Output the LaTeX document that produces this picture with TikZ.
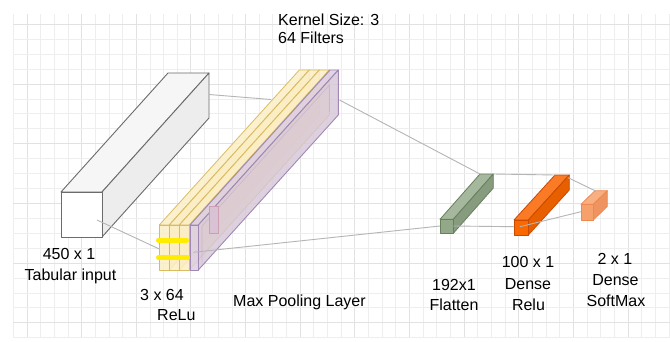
\documentclass[tikz,border=0pt]{standalone}
\usepackage{fontspec}
\setmainfont{Liberation Sans}
\definecolor{gridminor}{HTML}{EEEEEE}
\definecolor{gridmajor}{HTML}{E2E2E2}
\definecolor{inpstroke}{HTML}{6B6B6B}
\definecolor{inptop}{HTML}{F6F6F6}
\definecolor{inpside}{HTML}{EDEDED}
\definecolor{yelfill}{HTML}{FCEFC6}
\definecolor{yelstroke}{HTML}{D9BC62}
\definecolor{purfill}{HTML}{DCCFE4}
\definecolor{purside}{HTML}{D6C6D8}
\definecolor{purstroke}{HTML}{A188B4}
\definecolor{kernstroke}{HTML}{CC9FB4}
\definecolor{kernfill}{HTML}{D8C2D4}
\definecolor{grnfront}{HTML}{93A889}
\definecolor{grntop}{HTML}{A5B79C}
\definecolor{grnside}{HTML}{879C7E}
\definecolor{grnstroke}{HTML}{66805C}
\definecolor{orafront}{HTML}{FA6800}
\definecolor{oratop}{HTML}{FB7A26}
\definecolor{oraside}{HTML}{E85F00}
\definecolor{orastroke}{HTML}{C94A00}
\definecolor{smfront}{HTML}{F6A06C}
\definecolor{smtop}{HTML}{F8B083}
\definecolor{smside}{HTML}{EF9460}
\definecolor{smstroke}{HTML}{EE8A50}
\definecolor{conncol}{HTML}{B5B5B5}
\definecolor{hlyellow}{HTML}{FFEC00}
\newcommand{\mycube}[9]{%
  \path[#8] (#1,#2) -- ++(#3,0) -- ++(#5,#6) -- ++({-(#3)},0) -- cycle;
  \path[#9] (#1+#3,#2) -- ++(#5,#6) -- ++(0,#4) -- ++({-(#5)},{-(#6)}) -- cycle;
  \path[#7] (#1,#2) rectangle ++(#3,#4);
}
\tikzset{
  lbl/.style={font=\fontsize{16}{21}\selectfont, inner sep=0pt, anchor=base},
  lblw/.style={lbl, anchor=base west},
  conn/.style={draw=conncol, line width=0.9pt},
  hlbar/.style={draw=hlyellow, line width=5pt, line cap=round},
}
\begin{document}
\begin{tikzpicture}[x=1pt,y=-1pt]
\useasboundingbox (0,0) rectangle (670,341);
\fill[white] (0,0) rectangle (670,341);
% grid
\foreach \k in {0,...,48} {
  \pgfmathsetmacro{\gx}{13.3+13.66*\k}
  \pgfmathtruncatemacro{\m}{mod(\k,4)}
  \ifnum\m=1
    \draw[gridmajor, line width=0.8pt] (\gx,14) -- (\gx,338);
  \else
    \draw[gridminor, line width=0.7pt] (\gx,14) -- (\gx,338);
  \fi
}
\foreach \k in {0,...,21} {
  \pgfmathsetmacro{\gy}{24.3+14.92*\k}
  \pgfmathtruncatemacro{\m}{mod(\k,4)}
  \ifnum\m=0
    \draw[gridmajor, line width=0.8pt] (13.3,\gy) -- (670,\gy);
  \else
    \draw[gridminor, line width=0.7pt] (13.3,\gy) -- (670,\gy);
  \fi
}
% input cuboid
\mycube{61}{192}{41}{45}{107}{-119}
  {fill=white, draw=inpstroke, line width=0.9pt, line join=round}
  {fill=inptop, draw=inpstroke, line width=0.9pt, line join=round}
  {fill=inpside, draw=inpstroke, line width=0.9pt, line join=round}
% conv slabs
\foreach \sx in {159.3,169.3,179.3} {
  \mycube{\sx}{225}{10}{45}{140}{-155}
    {fill=yelfill, fill opacity=0.85, draw=yelstroke, line width=0.8pt, line join=round}
    {fill=yelfill, fill opacity=0.85, draw=yelstroke, line width=0.8pt, line join=round}
    {fill=yelfill!85!yelstroke, fill opacity=0.8, draw=yelstroke, line width=0.8pt, line join=round}
}
\mycube{190}{225}{8.3}{45}{140}{-155}
  {fill=purfill, fill opacity=0.85, draw=purstroke, line width=0.9pt, line join=round}
  {fill=purfill, fill opacity=0.85, draw=purstroke, line width=0.9pt, line join=round}
  {fill=purside, fill opacity=0.8, draw=purstroke, line width=0.9pt, line join=round}
\draw[purstroke!60, line width=0.6pt] (202,262) -- (202,226) -- (329.5,85) -- (329.5,112);
\draw[draw=kernstroke, fill=kernfill, line width=0.7pt] (209.3,206.7) rectangle (218.3,233.3);
% highlight bars
\coordinate (hb1a) at (158.5,240); \coordinate (hb1b) at (186.5,240);
\coordinate (hb2a) at (158.5,257.5); \coordinate (hb2b) at (187.5,257.5);
\draw[hlbar] (hb1a) -- (hb1b);
\draw[hlbar] (hb2a) -- (hb2b);
% flatten cuboid
\mycube{440}{219.3}{13.3}{14}{40}{-45.3}
  {fill=grnfront, draw=grnstroke, line width=0.8pt, line join=round}
  {fill=grntop, draw=grnstroke, line width=0.8pt, line join=round}
  {fill=grnside, draw=grnstroke, line width=0.8pt, line join=round}
% dense relu cuboid
\mycube{514}{220}{14.3}{15}{41}{-45}
  {fill=orafront, draw=orastroke, line width=0.8pt, line join=round}
  {fill=oratop, draw=orastroke, line width=0.8pt, line join=round}
  {fill=oraside, draw=orastroke, line width=0.8pt, line join=round}
% softmax cuboid
\mycube{581}{204.3}{12.3}{15.7}{14}{-13.6}
  {fill=smfront, draw=smstroke, line width=0.8pt, line join=round}
  {fill=smtop, draw=smstroke, line width=0.8pt, line join=round}
  {fill=smside, draw=smstroke, line width=0.8pt, line join=round}
% connectors
\coordinate (c1a) at (97,220);     \coordinate (c1b) at (159.3,249);
\coordinate (c2a) at (209,94.5);   \coordinate (c2b) at (271,99.5);
\coordinate (c3a) at (339.5,100);  \coordinate (c3b) at (480,174);
\coordinate (c4a) at (193.3,252.3);\coordinate (c4b) at (440,226);
\coordinate (c5a) at (493.3,174);  \coordinate (c5b) at (555,175);
\coordinate (c6a) at (453.3,226);  \coordinate (c6b) at (514,226.7);
\coordinate (c7a) at (567.7,177.5);\coordinate (c7b) at (595,190.7);
\coordinate (c8a) at (520,226.7);  \coordinate (c8b) at (581,211.7);
\draw[conn] (c1a) -- (c1b);
\draw[conn] (c2a) -- (c2b);
\draw[conn] (c3a) -- (c3b);
\draw[conn] (c4a) -- (c4b);
\draw[conn] (c5a) -- (c5b);
\draw[conn] (c6a) -- (c6b);
\draw[conn] (c7a) -- (c7b);
\draw[conn] (c8a) -- (c8b);
% labels
\node[lblw] (kern) at (278,25.8) {Kernel Size: 3};
\node[lblw] (filt) at (278,43.3) {64 Filters};
\node[lbl] (inpdim) at (69,259.3) {450 x 1};
\node[lbl] (inpname) at (70.5,280) {Tabular input};
\node[lblw] (convdim) at (140,300) {3 x 64};
\node[lblw] (convact) at (157,320.7) {ReLu};
\node[lblw] (pool) at (233,306.7) {Max Pooling Layer};
\node[lbl] (fldim) at (454,290) {192x1};
\node[lbl] (flname) at (454,310) {Flatten};
\node[lbl] (d1dim) at (528,267.3) {100 x 1};
\node[lbl] (d1name) at (528,289) {Dense};
\node[lbl] (d1act) at (528.5,310) {Relu};
\node[lbl] (d2dim) at (615,264) {2 x 1};
\node[lbl] (d2name) at (615.5,285) {Dense};
\node[lbl] (d2act) at (616,306.7) {SoftMax};
\end{tikzpicture}
\end{document}
